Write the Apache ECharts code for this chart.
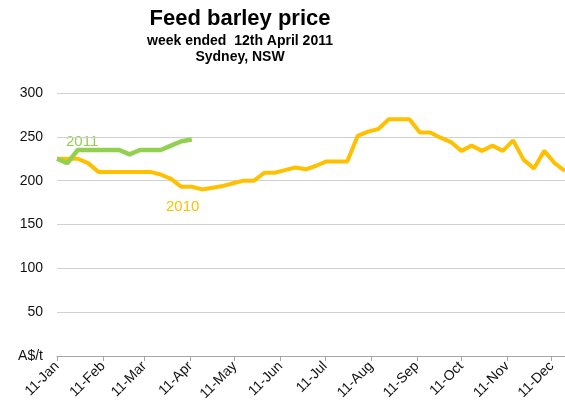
<!DOCTYPE html>
<html>
<head>
<meta charset="utf-8">
<script src="https://cdn.jsdelivr.net/npm/echarts@6/dist/echarts.min.js"></script>
<style>
  html, body { margin: 0; padding: 0; background: #fff; }
  #chart { width: 565px; height: 414px; }
</style>
</head>
<body>
<div id="chart"></div>
<script>
// weekly prices, weeks ending on the same day each year, first week 11 Jan
const price2010 = [225, 225, 225, 220, 210, 210, 210, 210, 210, 210,
  207, 202, 193, 193, 190, 192, 194, 197, 200, 200,
  209, 209, 212, 215, 213, 217, 222, 222, 222, 251,
  256, 259, 270, 270, 270, 255, 255, 249, 244, 234,
  240, 234, 240, 234, 246, 224, 214, 234, 220, 211]
const price2011 = [225, 220, 235, 235, 235, 235, 235, 230, 235, 235,
  235, 240, 245, 247]
const monthNames = ['Jan', 'Feb', 'Mar', 'Apr', 'May', 'Jun', 'Jul', 'Aug', 'Sep', 'Oct', 'Nov', 'Dec']
// x tick marks on the 11th of each month
const tickDates = monthNames.map((m, i) => new Date(2011, i, 11).getTime())

const DAY = 24 * 3600 * 1000
const firstWeek = new Date(2011, 0, 11).getTime()
const weekDate = (i) => firstWeek + i * 7 * DAY
const toPoints = (arr) => arr.map((v, i) => [weekDate(i), v])

const chart = echarts.init(document.getElementById('chart'))
const font = 'Arial, "Liberation Sans", sans-serif'

chart.setOption({
  animation: false,
  title: [
    {
      text: 'Feed barley price',
      left: 235,
      top: 3,
      textAlign: 'center',
      textStyle: { fontFamily: font, fontSize: 22, fontWeight: 'bold', color: '#000' },
    },
    {
      text: 'week ended  12th April 2011',
      left: 235,
      top: 29,
      textAlign: 'center',
      textStyle: { fontFamily: font, fontSize: 14, fontWeight: 'bold', color: '#000' },
    },
    {
      text: 'Sydney, NSW',
      left: 235,
      top: 45,
      textAlign: 'center',
      textStyle: { fontFamily: font, fontSize: 14, fontWeight: 'bold', color: '#000' },
    },
  ],
  grid: { left: 57, right: 0, top: 93, bottom: 58 },
  xAxis: {
    type: 'value',
    min: firstWeek,
    max: weekDate(price2010.length - 1),
    axisLine: { lineStyle: { color: '#a6a6a6', width: 1 } },
    axisTick: { show: true, length: 5, customValues: tickDates, lineStyle: { color: '#a6a6a6' } },
    splitLine: { show: false },
    axisLabel: {
      customValues: tickDates,
      rotate: 45,
      margin: 8,
      fontFamily: font,
      fontSize: 14,
      color: '#111',
      formatter: (v) => {
        const d = new Date(v)
        return d.getDate() + '-' + monthNames[d.getMonth()]
      },
    },
  },
  yAxis: {
    type: 'value',
    min: 0,
    max: 300,
    interval: 50,
    axisLine: { show: false },
    axisTick: { show: false },
    splitLine: { lineStyle: { color: '#d0d0d0', width: 1 } },
    axisLabel: {
      margin: 14,
      fontFamily: font,
      fontSize: 14,
      color: '#111',
      formatter: (v) => (v === 0 ? 'A$/t' : v),
    },
  },
  graphic: [
    {
      type: 'text',
      left: 66,
      top: 134,
      style: { text: '2011', fill: '#92D050', font: '15px ' + font },
    },
    {
      type: 'text',
      left: 166,
      top: 199,
      style: { text: '2010', fill: '#FFC000', font: '15px ' + font },
    },
  ],
  series: [
    {
      name: '2010',
      type: 'line',
      data: toPoints(price2010),
      symbol: 'none',
      lineStyle: { color: '#FFC000', width: 4 },
      z: 2,
    },
    {
      name: '2011',
      type: 'line',
      data: toPoints(price2011),
      symbol: 'none',
      lineStyle: { color: '#92D050', width: 4.5 },
      z: 3,
    },
  ],
})
</script>
</body>
</html>
